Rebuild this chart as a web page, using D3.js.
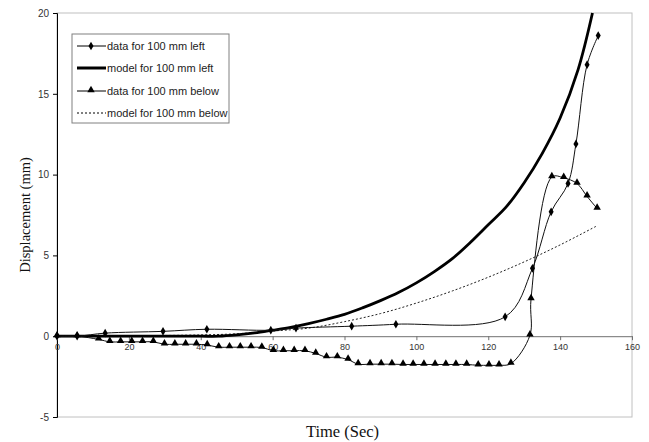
<!DOCTYPE html>
<html>
<head>
<meta charset="utf-8">
<script src="https://cdn.jsdelivr.net/npm/d3@7"></script>
<style>
  body { margin: 0; background: #fff; }
  svg { display: block; }
</style>
</head>
<body>
<div id="chart"></div>
<script>
// chart values

var width = 649;
var height = 442;

// data for 100 mm left (diamonds)
var leftTime = [0, 5.6, 13.4, 29.5, 41.7, 59.5, 66.5, 82, 94.3, 124.7, 132.3, 137.5, 142.2, 144.4, 147.5, 150.6];
var leftDisp = [0, 0, 0.19, 0.3, 0.43, 0.37, 0.5, 0.62, 0.74, 1.2, 4.2, 7.7, 9.45, 11.9, 16.8, 18.6];

// model for 100 mm left (thick line)
var modelLeftTime = [0, 10, 20, 30, 40, 45, 50, 55, 60, 65, 70, 75, 80, 85, 90, 95, 100, 105, 110, 115, 120, 125, 130, 135, 140, 145, 149];
var modelLeftDisp = [0, 0, 0, 0, 0, 0, 0.08, 0.2, 0.37, 0.55, 0.78, 1.05, 1.35, 1.75, 2.2, 2.7, 3.3, 4.0, 4.8, 5.8, 6.9, 8.0, 9.5, 11.3, 13.5, 16.5, 20];

// data for 100 mm below (triangles)
var belowTime = [0, 5.6, 11.6, 14.7, 17.7, 20.8, 23.8, 26.8, 29.9, 32.8, 35.8, 38.8, 41.8, 45, 48, 51, 54, 57,
                 60.2, 63, 66, 69, 72, 75, 78, 81, 83.8, 87.1, 90.2, 93.2, 96.3, 99.1, 102.1, 105.2, 108.2, 111,
                 114, 117.2, 120.2, 123, 126.3, 131.6, 131.9, 137.7, 141, 144.7, 147.5, 150.3];
var belowDisp = [0, 0, -0.2, -0.35, -0.35, -0.35, -0.35, -0.35, -0.5, -0.5, -0.5, -0.5, -0.55, -0.68, -0.68, -0.68, -0.68, -0.7,
                 -0.9, -0.9, -0.9, -0.9, -1.07, -1.3, -1.3, -1.45, -1.73, -1.73, -1.73, -1.73, -1.75, -1.75, -1.75, -1.75, -1.75, -1.75,
                 -1.75, -1.8, -1.8, -1.8, -1.7, 0.06, 2.3, 9.85, 9.8, 9.45, 8.65, 7.9];

// model for 100 mm below (dotted line)
var modelBelowTime = [0, 20, 40, 50, 60, 70, 80, 90, 100, 110, 120, 130, 140, 150];
var modelBelowDisp = [0, 0.02, 0.08, 0.15, 0.32, 0.5, 0.9, 1.4, 2.05, 2.8, 3.65, 4.6, 5.65, 6.8];

var xTicks = [0, 20, 40, 60, 80, 100, 120, 140, 160];
var yTicks = [-5, 0, 5, 10, 15, 20];

var legendLabels = ['data for 100 mm left', 'model for 100 mm left', 'data for 100 mm below', 'model for 100 mm below'];

function zipPoints(xs, ys){
  var pts = [];
  for (var i = 0; i < xs.length; i++){
    pts.push({t: xs[i], d: ys[i]});
  }
  return pts;
}

var leftData = zipPoints(leftTime, leftDisp);
var modelLeft = zipPoints(modelLeftTime, modelLeftDisp);
var belowData = zipPoints(belowTime, belowDisp);
var modelBelow = zipPoints(modelBelowTime, modelBelowDisp);

var plotLeft = 57, plotRight = 632, plotTop = 13, plotBottom = 417;

var x = d3.scaleLinear().domain([0, 160]).range([plotLeft, plotRight]);
var y = d3.scaleLinear().domain([-5, 20]).range([plotBottom, plotTop]);

var svg = d3.select("#chart").append("svg")
            .attr("width", width)
            .attr("height", height);

svg.append("rect").attr("width", width).attr("height", height).attr("fill", "#fff");

// plot area border (gray top/right/bottom)
svg.append("rect")
   .attr("x", plotLeft).attr("y", plotTop)
   .attr("width", plotRight - plotLeft).attr("height", plotBottom - plotTop)
   .attr("fill", "none").attr("stroke", "#c0c0c0").attr("stroke-width", 1);

// y axis on the left (plain hyphen minus like the original)
var yAxis = d3.axisLeft(y).tickValues(yTicks).tickSize(4).tickPadding(4)
              .tickFormat(function(d){ return String(d); });
var gy = svg.append("g").attr("transform", "translate(" + plotLeft + ",0)").call(yAxis);
gy.select(".domain").attr("stroke", "#000");
gy.selectAll(".tick line").attr("stroke", "#000");
gy.selectAll("text").attr("font-family", "Liberation Sans, Arial, sans-serif")
  .attr("font-size", 10).attr("fill", "#333");

// x axis crossing at zero
var xAxis = d3.axisBottom(x).tickValues(xTicks).tickSize(4).tickPadding(3).tickSizeOuter(0);
var gx = svg.append("g").attr("transform", "translate(0," + y(0) + ")").call(xAxis);
gx.select(".domain").attr("stroke", "#707070");
gx.selectAll(".tick line").attr("stroke", "#707070");
gx.selectAll("text").attr("font-family", "Liberation Sans, Arial, sans-serif")
  .attr("font-size", 9).attr("fill", "#333");

// axis titles
svg.append("text")
   .attr("x", (plotLeft + plotRight) / 2 - 2).attr("y", 437)
   .attr("text-anchor", "middle")
   .attr("font-family", "Liberation Serif, Times New Roman, serif")
   .attr("font-size", 16.5).attr("fill", "#111")
   .text("Time (Sec)");

svg.append("text")
   .attr("transform", "translate(30," + ((plotTop + plotBottom) / 2) + ") rotate(-90)")
   .attr("text-anchor", "middle")
   .attr("font-family", "Liberation Serif, Times New Roman, serif")
   .attr("font-size", 14.5).attr("fill", "#111")
   .text("Displacement (mm)");

var smooth = d3.line()
               .x(function(d){ return x(d.t); })
               .y(function(d){ return y(d.d); })
               .curve(d3.curveCatmullRom.alpha(0.5));

// model lines
svg.append("path").datum(modelBelow)
   .attr("d", smooth).attr("fill", "none")
   .attr("stroke", "#222").attr("stroke-width", 1).attr("stroke-dasharray", "2,2");

svg.append("path").datum(modelLeft)
   .attr("d", smooth).attr("fill", "none")
   .attr("stroke", "#000").attr("stroke-width", 2.8);

// data lines
svg.append("path").datum(leftData)
   .attr("d", smooth).attr("fill", "none")
   .attr("stroke", "#111").attr("stroke-width", 1);

svg.append("path").datum(belowData)
   .attr("d", smooth).attr("fill", "none")
   .attr("stroke", "#111").attr("stroke-width", 1);

var diamond = d3.symbol().type(d3.symbolDiamond).size(22);
var triangle = d3.symbol().type(d3.symbolTriangle).size(24);

svg.selectAll("path.diamond").data(leftData).enter().append("path")
   .attr("class", "diamond")
   .attr("d", diamond)
   .attr("transform", function(d){ return "translate(" + x(d.t) + "," + y(d.d) + ")"; })
   .attr("fill", "#000");

svg.selectAll("path.tri").data(belowData).enter().append("path")
   .attr("class", "tri")
   .attr("d", triangle)
   .attr("transform", function(d){ return "translate(" + x(d.t) + "," + (y(d.d) - 1) + ")"; })
   .attr("fill", "#000");

// legend
var legend = svg.append("g");
legend.append("rect")
      .attr("x", 72).attr("y", 34).attr("width", 157).attr("height", 89)
      .attr("fill", "#fff").attr("stroke", "#808080").attr("stroke-width", 1);

var legendY = [46, 68, 91, 113];
legendLabels.forEach(function(label, i){
  var ly = legendY[i];
  var line = legend.append("line")
        .attr("x1", 77).attr("x2", 106).attr("y1", ly).attr("y2", ly)
        .attr("stroke", "#000");
  if (i === 1){ line.attr("stroke-width", 3); }
  else if (i === 3){ line.attr("stroke-width", 1).attr("stroke-dasharray", "2,2"); }
  else { line.attr("stroke-width", 1); }
  if (i === 0){
    legend.append("path").attr("d", diamond).attr("transform", "translate(91," + ly + ")");
  }
  if (i === 2){
    legend.append("path").attr("d", triangle).attr("transform", "translate(91," + (ly - 1) + ")");
  }
  legend.append("text")
        .attr("x", 107).attr("y", ly + 4)
        .attr("font-family", "Liberation Sans, Arial, sans-serif")
        .attr("font-size", 11).attr("fill", "#222")
        .text(label);
});
</script>
</body>
</html>
